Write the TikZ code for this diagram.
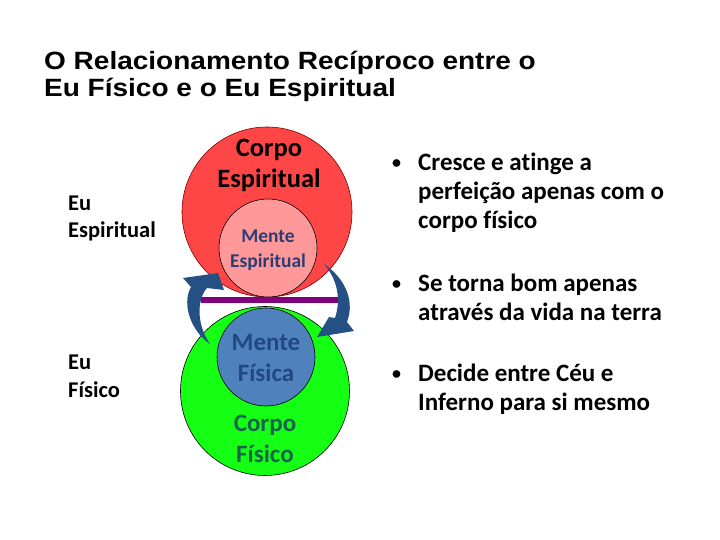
\documentclass[tikz,border=0pt]{standalone}
\usepackage{fontspec}
\setmainfont{Carlito}[Ligatures=NoCommon]
\newfontfamily\titlefont{Liberation Sans}[FakeStretch=1.12]
\definecolor{redc}{RGB}{255,70,70}
\definecolor{pinkc}{RGB}{255,153,153}
\definecolor{greenc}{RGB}{20,255,20}
\definecolor{bluec}{RGB}{79,129,189}
\definecolor{purplec}{RGB}{128,0,128}
\definecolor{arrowc}{RGB}{36,80,132}
\definecolor{navytxt}{RGB}{45,60,115}
\definecolor{mftxt}{RGB}{33,72,128}
\definecolor{cftxt}{RGB}{22,98,80}
\tikzset{
  ttl/.style={anchor=base west, inner sep=0, font=\titlefont\bfseries\fontsize{25}{29}\selectfont},
  side/.style={anchor=base west, inner sep=0, font=\bfseries\fontsize{22.5}{26}\selectfont},
  bul/.style={anchor=base west, inner sep=0, font=\bfseries\fontsize{25}{30}\selectfont},
  bdot/.style={anchor=base west, inner sep=0, font=\bfseries\fontsize{18}{20}\selectfont},
  disc/.style={circle, inner sep=0, draw=black, line width=0.6pt},
  ctext/.style={anchor=base, inner sep=0},
  barrow/.style={fill=arrowc, draw=none}
}
\begin{document}
\begin{tikzpicture}[x=1pt,y=-1pt]
\useasboundingbox (0,0) rectangle (720,540);
\fill[white] (0,0) rectangle (720,540);
% title
\node[ttl] (t1) at (44,70) {O Relacionamento Recíproco entre o};
\node[ttl] (t2) at (44,97) {Eu Físico e o Eu Espiritual};
% side labels
\node[side] (es1) at (68,211) {Eu};
\node[side] (es2) at (68,237) {Espiritual};
\node[side] (ef1) at (68,369) {Eu};
\node[side] (ef2) at (68,397) {Físico};
% circles
\node[disc, fill=redc, draw=red!50!black, minimum size=170pt] (red) at (267,212) {};
\node[disc, fill=pinkc, minimum size=98pt] (pink) at (268,248) {};
\node[disc, fill=greenc, minimum size=169pt] (green) at (265,391) {};
\node[disc, fill=bluec, minimum size=98pt] (blue) at (266,357) {};
% bar
\fill[purplec] (201,297) rectangle (338,303);
% circle texts
\node[ctext, font=\bfseries\fontsize{26.5}{30}\selectfont] (ce1) at (269,157) {Corpo};
\node[ctext, font=\bfseries\fontsize{26.5}{30}\selectfont] (ce2) at (269,188) {Espiritual};
\node[ctext, font=\bfseries\fontsize{19.5}{22}\selectfont, text=navytxt] (me1) at (268,243) {Mente};
\node[ctext, font=\bfseries\fontsize{19.5}{22}\selectfont, text=navytxt] (me2) at (268,267) {Espiritual};
\node[ctext, font=\bfseries\fontsize{25}{28}\selectfont, text=mftxt] (mf1) at (266,350) {Mente};
\node[ctext, font=\bfseries\fontsize{25}{28}\selectfont, text=mftxt] (mf2) at (266,381) {Física};
\node[ctext, font=\bfseries\fontsize{25}{28}\selectfont, text=cftxt] (cf1) at (265,431) {Corpo};
\node[ctext, font=\bfseries\fontsize{25}{28}\selectfont, text=cftxt] (cf2) at (265,462) {Físico};
% curved block arrows
\fill[barrow] (210,344) .. controls (192,332) and (181,305) .. (191,287)
  -- (183,278) -- (218,273) -- (224,290) -- (207,288)
  .. controls (198,298) and (195,322) .. (210,344) -- cycle;
\fill[barrow] (324,264) .. controls (342,276) and (356,298) .. (347,322)
  -- (354,331) -- (317,337) -- (329,317) -- (335,318)
  .. controls (341,300) and (338,280) .. (324,264) -- cycle;
% bullets
\node[bdot] (b1) at (392,169) {\textbullet};
\node[bul] (b1a) at (418,171) {Cresce e atinge a};
\node[bul] (b1b) at (418,200) {perfeição apenas com o};
\node[bul] (b1c) at (418,229) {corpo físico};
\node[bdot] (b2) at (392,289) {\textbullet};
\node[bul] (b2a) at (418,291) {Se torna bom apenas};
\node[bul] (b2b) at (418,320) {através da vida na terra};
\node[bdot] (b3) at (392,379) {\textbullet};
\node[bul] (b3a) at (418,381) {Decide entre Céu e};
\node[bul] (b3b) at (418,410) {Inferno para si mesmo};
\end{tikzpicture}
\end{document}
